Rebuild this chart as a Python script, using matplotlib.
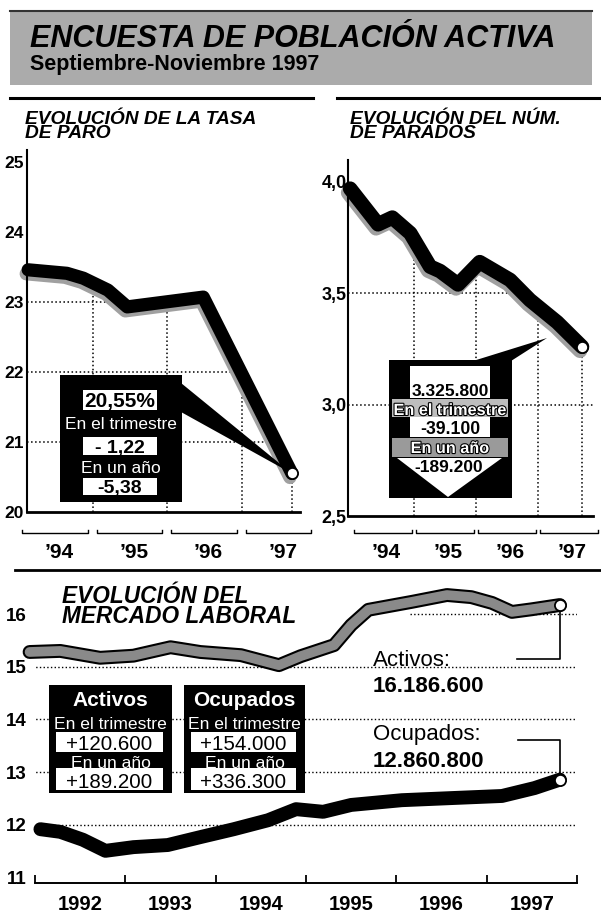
import numpy as np
import matplotlib
matplotlib.use('Agg')
import matplotlib.pyplot as plt
from matplotlib.patches import Polygon, Rectangle
from matplotlib.transforms import offset_copy, blended_transform_factory
import matplotlib.patheffects as pe

plt.rcParams['font.family'] = ['Liberation Sans', 'DejaVu Sans']

# ---------------- DATA ----------------
# Tasa de paro (%)
paro_years = [1994.13, 1994.65, 1994.87, 1995.20, 1995.46, 1996.48, 1997.67]
paro_rate = [23.46, 23.41, 23.34, 23.17, 22.93, 23.07, 20.55]
paro_yticks = [20, 21, 22, 23, 24, 25]
paro_yticklabels = ['20', '21', '22', '23', '24', '25']

# Número de parados (millones)
parados_years = [1993.97, 1994.42, 1994.65, 1994.94, 1995.26, 1995.42, 1995.71,
                 1996.06, 1996.55, 1996.87, 1997.31, 1997.71]
parados_mill = [3.97, 3.81, 3.84, 3.77, 3.62, 3.60, 3.54, 3.64, 3.56, 3.47, 3.37, 3.26]
parados_yticks = [2.5, 3.0, 3.5, 4.0]
parados_yticklabels = ['2,5', '3,0', '3,5', '4,0']

top_years = [1994, 1995, 1996, 1997]
top_year_labels = ['\u201994', '\u201995', '\u201996', '\u201997']

# Mercado laboral (millones)
activos_years = [1991.94, 1992.28, 1992.72, 1993.09, 1993.50, 1993.83, 1994.28, 1994.70,
                 1994.94, 1995.31, 1995.50, 1995.69, 1996.17, 1996.56, 1996.83, 1997.06,
                 1997.28, 1997.50, 1997.81]
activos_mill = [15.28, 15.30, 15.17, 15.21, 15.37, 15.28, 15.22, 15.03,
                15.20, 15.41, 15.79, 16.08, 16.23, 16.36, 16.32, 16.21,
                16.04, 16.09, 16.17]
ocupados_years = [1992.06, 1992.28, 1992.53, 1992.78, 1993.09, 1993.47, 1993.83, 1994.20,
                  1994.58, 1994.89, 1995.19, 1995.50, 1996.06, 1996.61, 1997.17, 1997.53,
                  1997.81]
ocupados_mill = [11.92, 11.87, 11.72, 11.51, 11.58, 11.62, 11.77, 11.92,
                 12.09, 12.30, 12.25, 12.38, 12.47, 12.51, 12.55, 12.70, 12.86]
bottom_years = [1992, 1993, 1994, 1995, 1996, 1997]
bottom_year_labels = ['1992', '1993', '1994', '1995', '1996', '1997']
bottom_yticks = [11, 12, 13, 14, 15, 16]
bottom_yticklabels = ['11', '12', '13', '14', '15', '16']

# ---------------- FIGURE ----------------
W, H = 601, 913
fig = plt.figure(figsize=(W / 100, H / 100), dpi=100)


def rect(x0, y0, x1, y1):
    return [x0 / W, 1 - y1 / H, (x1 - x0) / W, (y1 - y0) / H]


bg = fig.add_axes([0, 0, 1, 1], zorder=0)
bg.set_xlim(0, W); bg.set_ylim(H, 0); bg.axis('off')

fg = fig.add_axes([0, 0, 1, 1], zorder=5)
fg.set_xlim(0, W); fg.set_ylim(H, 0); fg.axis('off')
fg.patch.set_alpha(0)


def to_px(ax, x, y):
    d = ax.transData.transform((x, y))
    return fg.transData.inverted().transform(d)


# header
bg.add_patch(Rectangle((10, 10), 582, 75, facecolor='#ababab', edgecolor='none'))
bg.plot([10, 592], [11, 11], color='#333333', lw=1.5)
bg.text(30, 47, 'ENCUESTA DE POBLACIÓN ACTIVA', fontsize=22, fontweight='bold',
        style='italic', va='baseline', ha='left')
bg.text(30, 70, 'Septiembre-Noviembre 1997', fontsize=15.5, fontweight='bold',
        va='baseline', ha='left')
bg.plot([10, 313], [98, 98], color='k', lw=2.2)
bg.plot([337, 601], [98, 98], color='k', lw=2.2)
bg.plot([15, 601], [570, 570], color='k', lw=2)

tkw = dict(fontweight='bold', style='italic', va='baseline', ha='left')
bg.text(25, 138, 'EVOLUCIÓN DE LA TASA\nDE PARO', fontsize=13.8, linespacing=0.76, **tkw)
bg.text(350, 138, 'EVOLUCIÓN DEL NÚM.\nDE PARADOS', fontsize=13.8, linespacing=0.76, **tkw)
bg.text(62, 623, 'EVOLUCIÓN DEL\nMERCADO LABORAL', fontsize=16.3, linespacing=0.83, **tkw)


def style_top_axis(ax, yticks, ylabels, fs, pad):
    ax.patch.set_alpha(0)
    for s in ['top', 'right']:
        ax.spines[s].set_visible(False)
    ax.spines['left'].set_linewidth(1.5)
    ax.spines['bottom'].set_linewidth(2)
    ax.set_xticks([])
    ax.set_yticks(yticks)
    ax.set_yticklabels(ylabels, fontsize=fs, fontweight='bold', va='center_baseline')
    ax.tick_params(axis='y', length=0, pad=pad)


def under_poly(ax, xs, ys):
    x0, x1 = ax.get_xlim()
    y0 = ax.get_ylim()[0]
    verts = [(x0, y0), (x0, ys[0])] + list(zip(xs, ys)) + [(x1, ys[-1]), (x1, y0)]
    p = Polygon(verts, closed=True, transform=ax.transData, facecolor='none',
                edgecolor='none')
    ax.add_patch(p)
    return p


def grid_under(ax, xs, ys, hvals, vvals):
    poly = under_poly(ax, xs, ys)
    for v in hvals:
        l = ax.axhline(v, ls=':', color='k', lw=1.1, zorder=1)
        l.set_clip_path(poly)
    for v in vvals:
        l = ax.axvline(v, ls=':', color='k', lw=1.1, zorder=1)
        l.set_clip_path(poly)


def year_brackets(ax, years, labels, y0px, y1px, a, b):
    tr = blended_transform_factory(ax.transData, ax.transAxes)
    hpx = y1px - y0px
    yb = (y1px - 533) / hpx
    tk = 3 / hpx
    ylab = (y1px - 558) / hpx
    for yr, lab in zip(years, labels):
        ax.plot([yr + a, yr + a, yr + b, yr + b], [yb + tk, yb, yb, yb + tk],
                color='k', lw=1, transform=tr, clip_on=False)
        ax.text(yr + 0.55, ylab, lab, transform=tr, ha='center', va='baseline',
                fontsize=15, fontweight='bold')


def thick_line(ax, xs, ys, lw, shadow=True):
    if shadow:
        ax.plot(xs, ys, color='#a0a0a0', lw=lw,
                transform=offset_copy(ax.transData, fig=fig, x=-2, y=-4, units='dots'),
                solid_joinstyle='round', solid_capstyle='round', clip_on=False, zorder=2)
    ax.plot(xs, ys, color='k', lw=lw, solid_joinstyle='round', solid_capstyle='round',
            clip_on=False, zorder=3)


# ---------- left chart: tasa de paro ----------
axL = fig.add_axes(rect(27, 150, 300, 512), zorder=1)
axL.set_xlim(1995 + (27 - 93) / 74.5, 1995 + (300 - 93) / 74.5)
axL.set_ylim(20, 25 + 12 / 70)
style_top_axis(axL, paro_yticks, paro_yticklabels, 12.5, 2)
grid_under(axL, paro_years, paro_rate, [21, 22, 23, 24],
           top_years[1:] + [paro_years[-1]])
thick_line(axL, paro_years, paro_rate, 9.5)
year_brackets(axL, top_years, top_year_labels, 150, 512, 0.05, 0.93)

# ---------- right chart: parados ----------
axR = fig.add_axes(rect(348, 160, 593, 516), zorder=1)
axR.set_xlim(1995 + (348 - 414) / 62, 1995 + (593 - 414) / 62)
axR.set_ylim(2.5, 4.0 + 22 / 222.7)
style_top_axis(axR, parados_yticks, parados_yticklabels, 13, 1)
grid_under(axR, parados_years, parados_mill, [3.0, 3.5],
           top_years[1:] + [parados_years[-1]])
thick_line(axR, parados_years, parados_mill, 10.5)
year_brackets(axR, top_years, top_year_labels, 160, 516, 0.03, 0.97)

# ---------- bottom chart ----------
axB = fig.add_axes(rect(35, 582, 577, 883), zorder=1)
axB.patch.set_alpha(0)
axB.set_xlim(1992, 1998)
axB.set_ylim(10.9, 16.607)
for s in ['top', 'right', 'left']:
    axB.spines[s].set_visible(False)
axB.spines['bottom'].set_linewidth(1.4)
axB.set_xticks(bottom_years + [1998])
axB.set_xticklabels([])
axB.tick_params(axis='x', direction='in', length=6, width=1.3)
axB.set_yticks(bottom_yticks)
axB.set_yticklabels(bottom_yticklabels, fontsize=13.5, fontweight='bold',
                    va='center_baseline')
axB.tick_params(axis='y', length=0, pad=6)
trB = blended_transform_factory(axB.transData, axB.transAxes)
for yr, lab in zip(bottom_years, bottom_year_labels):
    axB.text(yr + 0.5, (883 - 910) / 301, lab, transform=trB, ha='center',
             va='baseline', fontsize=14.5, fontweight='bold')
for v in bottom_yticks[1:5]:
    axB.hlines(v, 1991.97, 1998.01, colors='k', linestyles=':', lw=1, zorder=1)
axB.hlines(16, 1996.15, 1998.01, colors='k', linestyles=':', lw=1, zorder=1)

axB.plot(activos_years, activos_mill, color='k', lw=10, solid_joinstyle='round',
         solid_capstyle='round', clip_on=False, zorder=3)
axB.plot(activos_years, activos_mill, color='#8a8a8a', lw=7, solid_joinstyle='round',
         solid_capstyle='round', clip_on=False, zorder=3)
axB.plot(ocupados_years, ocupados_mill, color='k', lw=10, solid_joinstyle='round',
         solid_capstyle='round', clip_on=False, zorder=3)

# ---------- foreground: callouts ----------
mk = dict(marker='o', ms=8, mfc='white', mec='k', mew=1.3, ls='none', clip_on=False,
          zorder=10)

# left callout
tipL = to_px(axL, paro_years[-1], paro_rate[-1])
fg.add_patch(Rectangle((60, 375), 122, 127, fc='k', ec='none'))
fg.add_patch(Polygon([(181, 383), (181, 412), tuple(tipL)], fc='k', ec='none'))
fg.add_patch(Rectangle((83, 390), 74, 20, fc='white', ec='none'))
fg.add_patch(Rectangle((83, 437), 74, 18, fc='white', ec='none'))
fg.add_patch(Rectangle((83, 478), 74, 17, fc='white', ec='none'))
ck = dict(ha='center', va='center_baseline')
fg.text(120, 400, '20,55%', fontsize=15, fontweight='bold', **ck)
fg.text(121, 423, 'En el trimestre', fontsize=12.5, color='white', **ck)
fg.text(120, 446, '- 1,22', fontsize=14, fontweight='bold', **ck)
fg.text(121, 467, 'En un año', fontsize=12.5, color='white', **ck)
fg.text(120, 487, '-5,38', fontsize=14, fontweight='bold', **ck)
fg.plot([paro_years[-1]], [paro_rate[-1]], transform=axL.transData, **mk)

# right callout
stroke = [pe.withStroke(linewidth=1.6, foreground='k')]
fg.add_patch(Rectangle((389, 360), 123, 138, fc='k', ec='none'))
fg.add_patch(Polygon([(473, 361), (547, 338), (511, 361)], fc='k', ec='none'))
fg.add_patch(Rectangle((410, 366), 80, 32, fc='white', ec='none'))
fg.add_patch(Rectangle((392, 399), 116, 18, fc='#bdbdbd', ec='none'))
fg.add_patch(Rectangle((410, 417), 80, 20, fc='white', ec='none'))
fg.add_patch(Rectangle((392, 438), 116, 19, fc='#9a9a9a', ec='none'))
fg.add_patch(Polygon([(397, 458), (502, 458), (448, 497)], fc='white', ec='none'))
fg.text(450, 390, '3.325.800', fontsize=12.5, fontweight='bold', **ck)
fg.text(450, 409, 'En el trimestre', fontsize=11.7, fontweight='bold', color='white',
        path_effects=stroke, **ck)
fg.text(450, 427, '-39.100', fontsize=12.7, fontweight='bold', **ck)
fg.text(450, 447, 'En un año', fontsize=11.7, fontweight='bold', color='white',
        path_effects=stroke, **ck)
fg.text(449, 466, '-189.200', fontsize=12.5, fontweight='bold', **ck)
fg.plot([parados_years[-1]], [parados_mill[-1]], transform=axR.transData, **mk)


# bottom boxes
def stat_box(x0, x1, title, v1, v2):
    cx = (x0 + x1) / 2
    fg.add_patch(Rectangle((x0, 685), x1 - x0, 108, fc='k', ec='none'))
    fg.add_patch(Rectangle((x0 + 7, 732), x1 - x0 - 16, 20, fc='white', ec='none'))
    fg.add_patch(Rectangle((x0 + 7, 768), x1 - x0 - 16, 22, fc='white', ec='none'))
    fg.text(cx, 699, title, fontsize=15, fontweight='bold', color='white', **ck)
    fg.text(cx, 723, 'En el trimestre', fontsize=12.6, color='white', **ck)
    fg.text(cx - 1, 743, v1, fontsize=14.8, **ck)
    fg.text(cx, 762, 'En un año', fontsize=12.6, color='white', **ck)
    fg.text(cx - 1, 780, v2, fontsize=14.8, **ck)


stat_box(49, 172, 'Activos', '+120.600', '+189.200')
stat_box(184, 305, 'Ocupados', '+154.000', '+336.300')

# leaders and labels
ea = to_px(axB, activos_years[-1], activos_mill[-1])
eo = to_px(axB, ocupados_years[-1], ocupados_mill[-1])
fg.plot([ea[0], ea[0], 517], [ea[1], 659, 659], color='k', lw=1.2, zorder=4)
fg.plot([eo[0], eo[0], 518], [eo[1], 740, 740], color='k', lw=1.2, zorder=4)
fg.plot([activos_years[-1]], [activos_mill[-1]], transform=axB.transData, **mk)
fg.plot([ocupados_years[-1]], [ocupados_mill[-1]], transform=axB.transData, **mk)
fg.text(373, 666, 'Activos:', fontsize=16, va='baseline', ha='left')
fg.text(373, 692, '16.186.600', fontsize=16, fontweight='bold', va='baseline', ha='left')
fg.text(373, 740, 'Ocupados:', fontsize=16, va='baseline', ha='left')
fg.text(373, 767, '12.860.800', fontsize=16, fontweight='bold', va='baseline', ha='left')

fig.savefig('out.png', dpi=100)
